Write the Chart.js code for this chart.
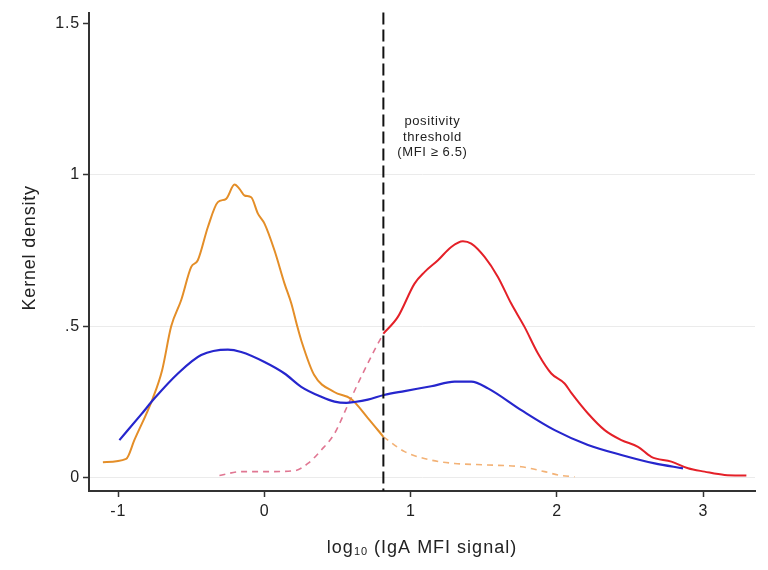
<!DOCTYPE html>
<html>
<head>
<meta charset="utf-8">
<script src="https://cdn.jsdelivr.net/npm/chart.js@4"></script>
<style>
  html, body { margin: 0; padding: 0; background: #fff; }
  #wrap { width: 768px; height: 570px; }
</style>
</head>
<body>
<div id="wrap"><canvas id="c" width="768" height="570"></canvas></div>
<script>
// Axis ticks
const xTicks = [-1, 0, 1, 2, 3];
const xTickLabels = ['-1', '0', '1', '2', '3'];
const yTicks = [0, 0.5, 1, 1.5];
const yTickLabels = ['0', '.5', '1', '1.5'];

// Positivity threshold on the MFI scale
const thresholdMFI = 6.5;

// Seronegative group, below threshold (solid)
const negSolidX = [-1.105, -0.946, -0.890, -0.763, -0.700, -0.638, -0.570, -0.501, -0.456, -0.387, -0.319, -0.262, -0.205, -0.171, -0.137, -0.091, -0.045, 0, 0.068, 0.137, 0.183, 0.224, 0.251, 0.340, 0.477, 0.593, 0.707, 0.813];
const negSolidY = [0.051, 0.062, 0.124, 0.263, 0.355, 0.500, 0.586, 0.696, 0.718, 0.828, 0.910, 0.921, 0.968, 0.954, 0.932, 0.926, 0.872, 0.839, 0.751, 0.641, 0.576, 0.500, 0.454, 0.339, 0.283, 0.260, 0.197, 0.135];

// Seronegative group, above threshold (dashed)
const negDashX = [0.813, 0.958, 1.140, 1.300, 1.528, 1.756, 1.915, 2.007, 2.120];
const negDashY = [0.135, 0.086, 0.058, 0.047, 0.042, 0.036, 0.020, 0.009, 0.003];

// Seropositive group, below threshold (dashed)
const posDashX = [-0.308, -0.159, 0.023, 0.205, 0.297, 0.388, 0.479, 0.570, 0.661, 0.752, 0.813];
const posDashY = [0.007, 0.020, 0.020, 0.023, 0.047, 0.091, 0.146, 0.240, 0.333, 0.421, 0.476];

// Seropositive group, above threshold (solid)
const posSolidX = [0.813, 0.912, 1.026, 1.094, 1.186, 1.277, 1.357, 1.414, 1.505, 1.596, 1.687, 1.778, 1.870, 1.961, 2.052, 2.098, 2.212, 2.326, 2.440, 2.554, 2.645, 2.782, 2.896, 3.009, 3.146, 3.295];
const posSolidY = [0.476, 0.531, 0.641, 0.679, 0.718, 0.762, 0.781, 0.773, 0.729, 0.663, 0.575, 0.498, 0.410, 0.344, 0.311, 0.280, 0.212, 0.157, 0.124, 0.102, 0.069, 0.053, 0.031, 0.020, 0.009, 0.007];

// All samples
const allX = [-0.992, -0.843, -0.752, -0.592, -0.433, -0.250, -0.159, 0, 0.137, 0.251, 0.388, 0.479, 0.560, 0.616, 0.707, 0.817, 0.958, 1.140, 1.300, 1.414, 1.528, 1.756, 1.984, 2.212, 2.440, 2.668, 2.862];
const allY = [0.124, 0.209, 0.262, 0.344, 0.405, 0.423, 0.415, 0.382, 0.344, 0.300, 0.267, 0.251, 0.247, 0.250, 0.258, 0.273, 0.286, 0.302, 0.317, 0.317, 0.295, 0.223, 0.157, 0.108, 0.075, 0.047, 0.031];

const pts = (xs, ys) => xs.map((x, i) => ({ x: x, y: ys[i] }));

const ORANGE = 'rgb(228,142,40)';
const ORANGE_LIGHT = 'rgb(243,178,118)';
const RED = 'rgb(228,32,40)';
const RED_LIGHT = 'rgb(224,118,146)';
const BLUE = 'rgb(38,38,205)';
const INK = '#222';
const FONT = '"Liberation Sans", Arial, sans-serif';

function lineSet(data, color, width, dash) {
  return {
    data: data,
    borderColor: color,
    backgroundColor: color,
    borderWidth: width,
    borderDash: dash || [],
    pointRadius: 0,
    pointHoverRadius: 0,
    showLine: true,
    fill: false,
    tension: 0.4,
    cubicInterpolationMode: 'monotone'
  };
}

// Threshold line, its label and the axis titles
const overlay = {
  id: 'overlay',
  beforeDraw(chart) {
    chart.ctx.letterSpacing = '0.8px';
  },
  afterDatasetsDraw(chart) {
    const { ctx, chartArea, scales } = chart;
    const tx = scales.x.getPixelForValue(Math.log10(thresholdMFI));
    ctx.save();
    ctx.strokeStyle = '#111';
    ctx.lineWidth = 2;
    ctx.setLineDash([12, 5]);
    ctx.beginPath();
    ctx.moveTo(tx, chartArea.top);
    ctx.lineTo(tx, chartArea.bottom);
    ctx.stroke();
    ctx.restore();

    ctx.save();
    ctx.letterSpacing = '0.6px';
    ctx.fillStyle = INK;
    ctx.font = '13px ' + FONT;
    ctx.textAlign = 'center';
    ctx.textBaseline = 'middle';
    const cx = tx + 49;
    ctx.fillText('positivity', cx, 121.7);
    ctx.fillText('threshold', cx, 137);
    ctx.fillText('(MFI \u2265 6.5)', cx, 152.7);
    ctx.restore();
  },
  afterDraw(chart) {
    const { ctx, chartArea } = chart;
    ctx.save();
    ctx.fillStyle = INK;
    ctx.textBaseline = 'middle';
    ctx.textAlign = 'left';
    ctx.letterSpacing = '1px';
    // x title with subscript base
    const big = '18px ' + FONT, small = '11px ' + FONT;
    const p1 = 'log', p2 = '10', p3 = ' (IgA MFI signal)';
    ctx.font = big; const w1 = ctx.measureText(p1).width; const w3 = ctx.measureText(p3).width;
    ctx.font = small; const w2 = ctx.measureText(p2).width;
    const cxm = (chartArea.left + chartArea.right) / 2;
    const x0 = cxm - (w1 + w2 + w3) / 2;
    const yT = 548;
    ctx.font = big; ctx.fillText(p1, x0, yT);
    ctx.font = small; ctx.fillText(p2, x0 + w1, yT + 4);
    ctx.font = big; ctx.fillText(p3, x0 + w1 + w2, yT);
    // y title
    ctx.translate(30, (chartArea.top + chartArea.bottom) / 2 - 4);
    ctx.rotate(-Math.PI / 2);
    ctx.textAlign = 'center';
    ctx.letterSpacing = '0.8px';
    ctx.font = big;
    ctx.fillText('Kernel density', 0, 0);
    ctx.restore();
  }
};

new Chart(document.getElementById('c'), {
  type: 'scatter',
  data: {
    datasets: [
      lineSet(pts(allX, allY), BLUE, 2.2),
      lineSet(pts(posSolidX, posSolidY), RED, 2),
      lineSet(pts(negSolidX, negSolidY), ORANGE, 2),
      lineSet(pts(posDashX, posDashY), RED_LIGHT, 1.6, [6, 5]),
      lineSet(pts(negDashX, negDashY), ORANGE_LIGHT, 1.6, [6, 5])
    ]
  },
  options: {
    responsive: false,
    animation: false,
    events: [],
    layout: { padding: { top: 10, right: 13, left: 0, bottom: 0 } },
    plugins: { legend: { display: false }, tooltip: { enabled: false } },
    scales: {
      x: {
        type: 'linear',
        min: -1.2,
        max: 3.354,
        afterBuildTicks: (s) => { s.ticks = xTicks.map(v => ({ value: v })); },
        afterFit: (s) => { s.height = 79; },
        ticks: {
          autoSkip: false,
          maxRotation: 0,
          padding: 5,
          color: INK,
          font: { family: FONT, size: 16 },
          callback: (v) => { const i = xTicks.indexOf(v); return i >= 0 ? xTickLabels[i] : ''; }
        },
        grid: { display: true, drawOnChartArea: false, drawTicks: true, tickLength: 6, tickColor: '#333', tickWidth: 1.5 },
        border: { display: true, color: '#333', width: 2 }
      },
      y: {
        type: 'linear',
        min: -0.044,
        max: 1.536,
        afterBuildTicks: (s) => { s.ticks = yTicks.map(v => ({ value: v })); },
        afterFit: (s) => { s.width = 89; },
        ticks: {
          autoSkip: false,
          padding: 3,
          color: INK,
          font: { family: FONT, size: 16 },
          callback: (v) => { const i = yTicks.indexOf(v); return i >= 0 ? yTickLabels[i] : ''; }
        },
        grid: {
          display: true,
          drawTicks: true,
          tickLength: 6,
          tickColor: '#333',
          tickWidth: 1.5,
          lineWidth: 1,
          color: (c) => (c.tick && c.tick.value === 1.5) ? 'rgba(0,0,0,0)' : '#ebebeb'
        },
        border: { display: true, color: '#333', width: 2 }
      }
    }
  },
  plugins: [overlay]
});
</script>
</body>
</html>
